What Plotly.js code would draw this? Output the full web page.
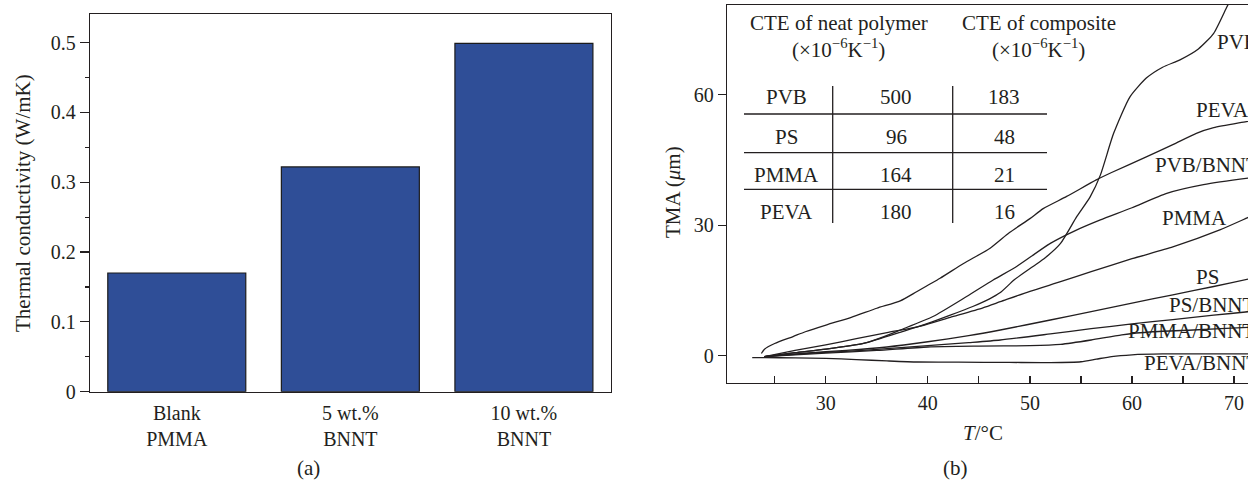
<!DOCTYPE html>
<html>
<head>
<meta charset="utf-8">
<script src="https://cdn.plot.ly/plotly-3.0.1.min.js"></script>
<style>
html,body{margin:0;padding:0;overflow:hidden;background:#fff;}
#chart{width:1300px;height:481px;}
</style>
</head>
<body>
<div id="chart"></div>
<script>
// ---------- data: panel (a) ----------
const barCategories = ['Blank<br>PMMA', '5 wt.%<br>BNNT', '10 wt.%<br>BNNT'];
const barValues = [0.17, 0.322, 0.499];

// ---------- data: panel (b) TMA curves (T in °C, TMA in µm) ----------
const pevaT = [23.7, 24.0, 25, 26.8, 28, 30.1, 32.5, 35, 37.3, 38.9, 41.2, 43.5, 46.1, 48.0, 50, 51.3, 53.6, 56.5, 58, 61.4, 64, 66.3, 68, 71.2, 74];
const pevaY = [0.5, 1.5, 2.8, 4.4, 5.5, 7.1, 8.8, 10.9, 12.6, 14.7, 17.8, 21.2, 24.7, 28.3, 31.5, 33.8, 36.6, 40.4, 42.1, 45.7, 48.5, 51.1, 52.4, 53.8, 55];

const pvbT = [24, 27, 30, 33.7, 37.6, 40, 42.2, 44.4, 46, 47.1, 48.5, 50.3, 51.5, 53.0, 54.6, 55.9, 56.9, 58.2, 59.8, 61.4, 63, 64.7, 66.5, 68.0, 69.3, 69.7];
const pvbY = [-0.2, 0.7, 1.5, 2.8, 5.6, 7.4, 9.3, 11.3, 13, 14.5, 17.5, 20.5, 22.5, 25.8, 32.0, 36.5, 41.5, 51.1, 59.5, 63.8, 66.3, 68.0, 70.5, 74.1, 80.2, 82];

const pvbBnntT = [24, 27, 30, 33.7, 35.5, 37.3, 40.5, 43.8, 46.4, 48.7, 52, 54.5, 56.9, 60, 63.4, 67, 71.4, 74];
const pvbBnntY = [-0.2, 0.7, 1.5, 2.8, 4.2, 5.9, 9.0, 13.6, 17.4, 20.5, 25.8, 28.8, 31.2, 34.0, 37.3, 39.3, 40.8, 41.5];

const pmmaT = [24, 27, 30, 33, 36, 39.3, 42.2, 45.4, 47.1, 50, 53, 56, 60, 64, 68.6, 71.4, 74];
const pmmaY = [-0.2, 1.2, 2.5, 3.9, 5.3, 6.8, 8.8, 11.0, 12.4, 14.8, 17.0, 19.3, 22.3, 25.0, 28.9, 31.8, 34.5];

const psT = [24, 28, 32, 36, 40, 44, 47.1, 52, 56, 60, 64, 68, 71.4, 74];
const psY = [-0.2, 0.6, 1.2, 2.0, 3.2, 4.6, 5.9, 8.2, 10.1, 12.1, 14.0, 15.9, 17.6, 18.8];

const psBnntT = [24, 28, 32, 36, 40, 44, 47.1, 52, 56, 60, 64, 68, 71.4, 74];
const psBnntY = [-0.2, 0.5, 1.0, 1.6, 2.3, 3.0, 3.6, 5.0, 6.2, 7.3, 8.3, 9.3, 10.1, 10.8];

const pmmaBnntT = [24, 30, 35, 40, 45, 50, 53, 56, 59, 62, 66, 71.4, 74];
const pmmaBnntY = [-0.2, 0.6, 1.2, 2.0, 2.2, 2.3, 2.6, 3.6, 4.8, 5.5, 5.9, 6.5, 6.7];

const pevaBnntT = [22.8, 24, 27, 30, 33, 36, 39, 43, 48, 52, 55, 56.5, 58, 60, 63, 71.4, 74];
const pevaBnntY = [-0.45, -0.45, -0.5, -0.6, -0.9, -1.2, -1.45, -1.5, -1.55, -1.6, -1.4, -0.8, -0.2, 0.2, 0.4, 0.4, 0.4];

// ---------- data: inset table ----------
const tablePolymers = ['PVB', 'PS', 'PMMA', 'PEVA'];
const cteNeat = [500, 96, 164, 180];
const cteComposite = [183, 48, 21, 16];
const tableHeaders = ['CTE of neat polymer', 'CTE of composite'];
const tableUnit = '(×10<sup>−6</sup>K<sup>−1</sup>)';

const curveLabels = ['PVB', 'PEVA', 'PVB/BNNT', 'PMMA', 'PS', 'PS/BNNT', 'PMMA/BNNT', 'PEVA/BNNT'];

// ---------- layout helpers ----------
const W = 1300, H = 481;
const fx = p => p / W;
const fy = p => 1 - p / H;
const INK = '#231f20';
const FONT = 'Liberation Serif, Times New Roman, serif';
const TS = 21;

const curveStyle = {color: INK, width: 1.3, shape: 'spline', smoothing: 0.6};
function curve(t, y, name) {
  return {type: 'scatter', mode: 'lines', x: t, y: y, name: name,
          xaxis: 'x2', yaxis: 'y2', line: curveStyle, hoverinfo: 'name'};
}

const traces = [
  {type: 'bar', x: barCategories, y: barValues, xaxis: 'x', yaxis: 'y',
   marker: {color: '#2f4e97', line: {color: '#1b1b1b', width: 1.2}}, name: 'k'},
  curve(pevaT, pevaY, 'PEVA'),
  curve(pvbT, pvbY, 'PVB'),
  curve(pvbBnntT, pvbBnntY, 'PVB/BNNT'),
  curve(pmmaT, pmmaY, 'PMMA'),
  curve(psT, psY, 'PS'),
  curve(psBnntT, psBnntY, 'PS/BNNT'),
  curve(pmmaBnntT, pmmaBnntY, 'PMMA/BNNT'),
  curve(pevaBnntT, pevaBnntY, 'PEVA/BNNT')
];

const annotations = [];
function txt(text, x, y, size, xanchor, extra) {
  annotations.push(Object.assign({
    text: text, xref: 'paper', yref: 'paper', x: fx(x), y: fy(y),
    xanchor: xanchor || 'center', yanchor: 'middle', showarrow: false,
    font: {family: FONT, size: size, color: INK}
  }, extra || {}));
}

// axis titles and captions
txt('Thermal conductivity (W/mK)', 23, 203, TS, 'center', {textangle: -90});
txt('TMA (<i>μ</i>m)', 673, 192, TS, 'center', {textangle: -90});
txt('<i>T</i>/°C', 983, 433, TS, 'center');
txt('(a)', 308, 468, TS, 'center');
txt('(b)', 955, 468, TS, 'center');

// table
txt(tableHeaders[0], 839, 23, TS);
txt(tableUnit, 838, 48, TS);
txt(tableHeaders[1], 1039, 23, TS);
txt(tableUnit, 1038, 48, TS);
const rowY = [97, 136.7, 175, 211.7];
tablePolymers.forEach((p, i) => {
  txt(p, 786, rowY[i], TS);
  txt(String(cteNeat[i]), 896, rowY[i], TS);
  txt(String(cteComposite[i]), 1004, rowY[i], TS);
});

// curve labels
const labelPos = [[1215, 41.7], [1194, 110], [1152.7, 165], [1160, 218], [1194, 276.7], [1166.7, 305], [1126, 330.7], [1141.7, 363.3]];
curveLabels.forEach((l, i) => txt(l, labelPos[i][0], labelPos[i][1], TS, 'left'));

const shapes = [];
[114, 152.7, 189.3].forEach(y => shapes.push({type: 'line', xref: 'paper', yref: 'paper',
  x0: fx(744), x1: fx(1047), y0: fy(y), y1: fy(y), line: {color: INK, width: 1.3}}));
[832.7, 952.7].forEach(x => shapes.push({type: 'line', xref: 'paper', yref: 'paper',
  x0: fx(x), x1: fx(x), y0: fy(86), y1: fy(223), line: {color: INK, width: 1.3}}));

const axisBase = {showline: true, linecolor: INK, linewidth: 1.3, mirror: true,
  showgrid: false, zeroline: false, tickcolor: INK, tickwidth: 1.2,
  tickfont: {family: FONT, size: 20, color: INK}};

const layout = {
  width: W, height: H, margin: {l: 0, r: 0, t: 0, b: 0},
  paper_bgcolor: '#fff', plot_bgcolor: '#fff', showlegend: false,
  bargap: 0.205,
  xaxis: Object.assign({}, axisBase, {domain: [fx(90), fx(610.7)], anchor: 'y',
    type: 'category', range: [-0.5, 2.5], ticks: '', ticklabelstandoff: 3}),
  yaxis: Object.assign({}, axisBase, {domain: [fy(391.7), fy(14)], anchor: 'x',
    range: [0, 0.541], dtick: 0.1, tick0: 0, ticks: 'outside', ticklen: 9,
    minor: {dtick: 0.05, tick0: 0, ticks: 'outside', ticklen: 4, tickcolor: INK, tickwidth: 1.2}}),
  xaxis2: Object.assign({}, axisBase, {domain: [fx(727), fx(1268)], anchor: 'y2',
    range: [20.33, 73.32], dtick: 10, tick0: 0, ticks: 'inside', ticklen: 7,
    ticklabelstandoff: 2,
    minor: {dtick: 5, tick0: 0, ticks: 'inside', ticklen: 7, tickcolor: INK, tickwidth: 1.2}}),
  yaxis2: Object.assign({}, axisBase, {domain: [fy(383), fy(5)], anchor: 'x2',
    range: [-6.28, 80.6], tickvals: [0, 30, 60], ticks: 'outside', ticklen: 8}),
  annotations: annotations,
  shapes: shapes
};

Plotly.newPlot('chart', traces, layout, {staticPlot: true, displayModeBar: false});
</script>
</body>
</html>
